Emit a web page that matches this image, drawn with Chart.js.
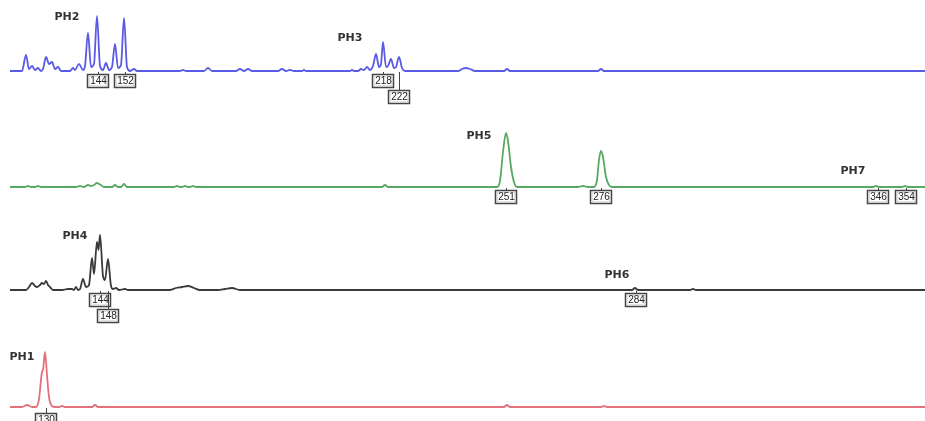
<!DOCTYPE html>
<html>
<head>
<meta charset="utf-8">
<script src="https://cdn.jsdelivr.net/npm/chart.js@4/dist/chart.umd.min.js"></script>
<style>
  body { margin: 0; background: #fff; }
  canvas { display: block; }
</style>
</head>
<body>
<canvas id="traceChart" width="925" height="421"></canvas>
<script>
// trace points: [scan position, signal height above baseline]
var bluePoints = [[10,0],[22,0],[26,16],[29,2],[32,5],[35,1],[38,3],[41,0],[43,2],[46,14],[49,7],[52,9],[55,2],[58,4],[61,0],[70,0],[73,3],[75,1],[79,7],[83,1],[85,5],[88,38],[91,4],[94,7],[97,55],[100,5],[103,1],[106,8],[109,1],[112,4],[115,27],[118,3],[121,6],[124,53],[127,4],[130,0],[134,2],[137,0],[180,0],[183,1],[186,0],[204,0],[208,3],[212,0],[236,0],[240,2],[244,0],[248,2],[252,0],[278,0],[282,2],[286,0],[290,1],[294,0],[302,0],[304,1],[306,0],[350,0],[352,1],[354,0],[358,0],[361,2],[364,1],[367,4],[370,1],[373,5],[376,17],[379,4],[381,7],[383,29],[386,4],[388,5],[391,12],[394,3],[396,4],[399,14],[402,3],[405,0],[458,0],[462,2],[466,3],[470,2],[475,0],[504,0],[507,2],[510,0],[598,0],[601,2],[604,0],[925,0]];
var greenPoints = [[10,0],[25,0],[28,1],[31,0],[35,0],[38,1],[41,0],[76,0],[80,1],[84,0],[88,2],[91,1],[94,2],[97,4],[99,3],[101,2],[104,0],[112,0],[115,2],[118,0],[121,0],[124,3],[127,0],[174,0],[177,1],[180,0],[182,0],[185,1],[188,0],[190,0],[193,1],[196,0],[382,0],[385,2],[388,0],[497,0],[500,6],[503,35],[506,54],[508,46],[511,20],[514,5],[517,0],[578,0],[583,1],[588,0],[594,0],[597,7],[599,27],[601,36],[603,30],[606,10],[609,2],[612,0],[873,0],[876,1],[879,0],[902,0],[905,1],[908,0],[925,0]];
var blackPoints = [[10,0],[26,0],[29,3],[32,7],[35,4],[37,3],[40,5],[42,7],[44,6],[46,9],[48,5],[50,3],[53,0],[62,0],[68,1],[72,1],[74,0],[76,3],[78,0],[80,1],[83,11],[86,3],[89,5],[92,32],[94,16],[97,48],[98.5,40],[100,55],[103,14],[105,10],[108,31],[111,4],[113,1],[116,2],[119,0],[125,1],[128,0],[170,0],[176,2],[182,3],[188,4],[194,2],[200,0],[218,0],[225,1],[232,2],[240,0],[632,0],[635,2],[638,0],[690,0],[693,1],[696,0],[925,0]];
var redPoints = [[10,0],[22,0],[27,2],[32,0],[36,0],[39,8],[42,35],[43,37],[45,55],[47,32],[49,10],[52,1],[55,0],[59,0],[62,1],[65,0],[92,0],[95,2],[98,0],[504,0],[507,2],[510,0],[601,0],[604,1],[607,0],[925,0]];

// peak group names
var peakNames = ['PH2', 'PH3', 'PH5', 'PH7', 'PH4', 'PH6', 'PH1'];
var peakNameX = [67, 350, 479, 853, 75, 617, 22];
var peakNameY = [54, 33, 51, 16, 54, 15, 50];
var peakNameTrace = [0, 0, 1, 1, 2, 2, 3];

// allele size calls
var sizeLabels = ['144', '152', '218', '222', '251', '276', '346', '354', '144', '148', '284', '130'];
var sizeX = [98, 125, 383, 399, 506, 601, 878, 906, 100, 108, 636, 46];
var sizeTrace = [0, 0, 0, 0, 1, 1, 1, 1, 2, 2, 2, 3];
var sizeRow = [0, 0, 0, 1, 0, 0, 0, 0, 0, 1, 0, 0];

var axisIds = ['yBlue', 'yGreen', 'yBlack', 'yRed'];

var labelPlugin = {
    id: 'peakLabels',
    afterDatasetsDraw: function (chart) {
        var c = chart.ctx;
        var xs = chart.scales.x;
        c.save();
        c.fillStyle = '#333';
        c.font = 'bold 11px "DejaVu Sans", sans-serif';
        c.textAlign = 'center';
        c.textBaseline = 'middle';
        for (var i = 0; i < peakNames.length; i++) {
            var ys = chart.scales[axisIds[peakNameTrace[i]]];
            c.fillText(peakNames[i], xs.getPixelForValue(peakNameX[i]), ys.getPixelForValue(peakNameY[i]));
        }
        c.font = '10px "Liberation Sans", Arial, sans-serif';
        for (var j = 0; j < sizeLabels.length; j++) {
            var ys2 = chart.scales[axisIds[sizeTrace[j]]];
            var px = Math.round(xs.getPixelForValue(sizeX[j]));
            var base = ys2.getPixelForValue(0);
            var off = sizeRow[j] ? 26 : 9.5;
            if (sizeTrace[j] == 3) off = 12.5;
            var cy = Math.round(base + off);
            var w = 21, h = 13;
            var left = px - 10.5, top = cy - 6.5;
            // connector from baseline to box
            c.strokeStyle = '#444';
            c.lineWidth = 1;
            c.beginPath();
            c.moveTo(px + 0.5, base + 1);
            c.lineTo(px + 0.5, top);
            c.stroke();
            c.fillStyle = '#fff';
            c.fillRect(left, top, w, h);
            c.lineWidth = 1.5;
            c.strokeStyle = '#444';
            c.strokeRect(left, top, w, h);
            c.lineWidth = 1;
            c.strokeStyle = '#c8c8c8';
            c.strokeRect(left + 1.5, top + 1.5, w - 3, h - 3);
            c.fillStyle = '#222';
            c.fillText(sizeLabels[j], px + 0.5, cy + 0.5);
        }
        c.restore();
    }
};

function trace(points, color, axis) {
    return {
        data: points.map(function (p) { return {x: p[0], y: p[1]}; }),
        borderColor: color,
        borderWidth: 1.8,
        pointRadius: 0,
        fill: false,
        cubicInterpolationMode: 'monotone',
        yAxisID: axis
    };
}

var ctx = document.getElementById('traceChart').getContext('2d');

var traceChart = new Chart(ctx, {
    type: 'line',
    data: {
        datasets: [
            trace(bluePoints, '#5a5ae6', 'yBlue'),
            trace(greenPoints, '#58a864', 'yGreen'),
            trace(blackPoints, '#3a3a3a', 'yBlack'),
            trace(redPoints, '#e4707a', 'yRed')
        ]
    },
    options: {
        responsive: false,
        animation: false,
        layout: { padding: 0 },
        plugins: {
            legend: { display: false },
            tooltip: { enabled: false }
        },
        scales: {
            x: { type: 'linear', min: 0, max: 925, display: false },
            // stacked left axes are placed bottom-up in definition order
            yRed: { type: 'linear', position: 'left', stack: 'traces', stackWeight: 86, min: -14, max: 72, display: false },
            yBlack: { type: 'linear', position: 'left', stack: 'traces', stackWeight: 120, min: -45, max: 75, display: false },
            yGreen: { type: 'linear', position: 'left', stack: 'traces', stackWeight: 105, min: -28, max: 77, display: false },
            yBlue: { type: 'linear', position: 'left', stack: 'traces', stackWeight: 110, min: -39, max: 71, display: false }
        }
    },
    plugins: [labelPlugin]
});
</script>
</body>
</html>
